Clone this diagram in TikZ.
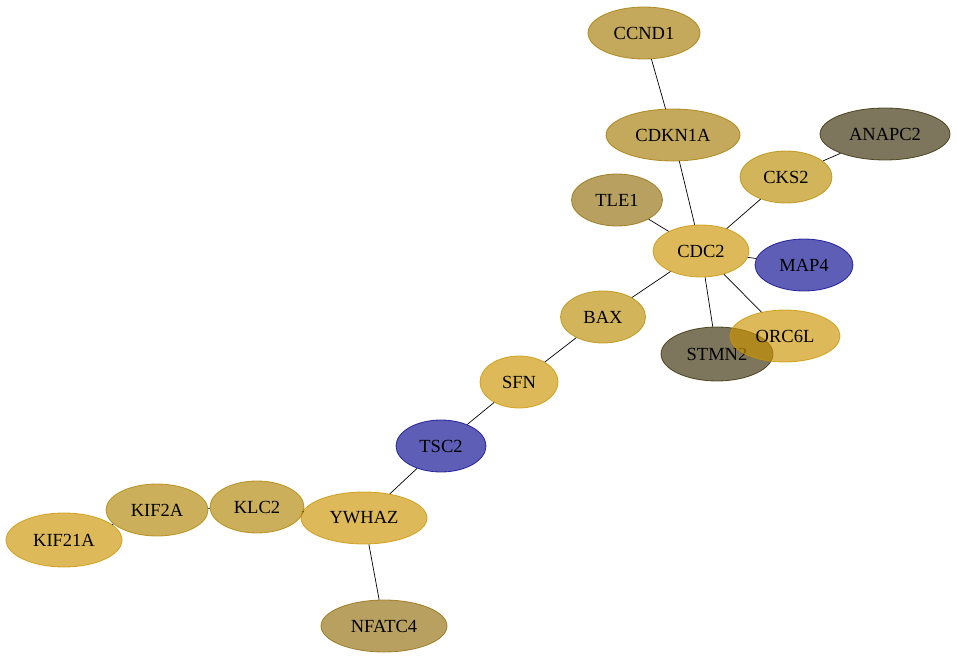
\documentclass[tikz,border=0pt]{standalone}
\usepackage{fontspec}
\setmainfont{Liberation Serif}
\usepackage{tikz}
\usetikzlibrary{shapes.geometric}
\definecolor{goldA}{RGB}{203,148,0}
\definecolor{goldB}{RGB}{186,140,2}
\definecolor{goldC}{RGB}{175,132,2}
\definecolor{tanA}{RGB}{165,122,3}
\definecolor{tanB}{RGB}{145,109,11}
\definecolor{olive}{RGB}{55,44,4}
\definecolor{indigo}{RGB}{8,8,145}
\tikzstyle{gene} = [ellipse, draw, inner sep=0pt, minimum height=52pt, line width=0.8pt, fill opacity=0.65, draw opacity=0.8, text opacity=1, font=\fontsize{18.5}{22}\selectfont]
\tikzstyle{link} = [line width=0.7pt, black]

\begin{document}
\begin{tikzpicture}[x=1pt, y=-1pt]
\useasboundingbox (0,0) rectangle (957,660);

% Nodes for the gene network
\node (ccnd1) [gene, fill=tanA, draw=tanA, minimum width=112pt] at (644,33) {CCND1};
\node (cdkn1a) [gene, fill=tanA, draw=tanA, minimum width=134pt] at (673,135) {CDKN1A};
\node (anapc2) [gene, fill=olive, draw=olive, minimum width=130pt] at (885,134) {ANAPC2};
\node (cks2) [gene, fill=goldB, draw=goldB, minimum width=92pt] at (786,177) {CKS2};
\node (tle1) [gene, fill=tanB, draw=tanB, minimum width=91pt] at (617,200) {TLE1};
\node (cdc2) [gene, fill=goldA, draw=goldA, minimum width=96pt] at (701,251) {CDC2};
\node (map4) [gene, fill=indigo, draw=indigo, minimum width=98pt] at (804,265) {MAP4};
\node (bax) [gene, fill=goldB, draw=goldB, minimum width=85pt] at (603,317) {BAX};
\node (stmn2) [gene, fill=olive, draw=olive, minimum width=112pt, minimum height=54pt] at (717,354) {STMN2};
\node (orc6l) [gene, fill=goldA, draw=goldA, minimum width=110pt] at (785,336) {ORC6L};
\node (sfn) [gene, fill=goldA, draw=goldA, minimum width=78pt] at (519,382) {SFN};
\node (tsc2) [gene, fill=indigo, draw=indigo, minimum width=90pt] at (441,446) {TSC2};
\node (ywhaz) [gene, fill=goldA, draw=goldA, minimum width=126pt] at (364,518) {YWHAZ};
\node (klc2) [gene, fill=goldC, draw=goldC, minimum width=94pt] at (257,507) {KLC2};
\node (kif2a) [gene, fill=goldC, draw=goldC, minimum width=102pt] at (157,510) {KIF2A};
\node (kif21a) [gene, fill=goldA, draw=goldA, minimum width=116pt, minimum height=54pt] at (64,540) {KIF21A};
\node (nfatc4) [gene, fill=tanB, draw=tanB, minimum width=126pt] at (384,626) {NFATC4};

% Edges between genes
\draw[link] (ccnd1) -- (cdkn1a);
\draw[link] (cdkn1a) -- (cdc2);
\draw[link] (anapc2) -- (cks2);
\draw[link] (cks2) -- (cdc2);
\draw[link] (tle1) -- (cdc2);
\draw[link] (cdc2) -- (map4);
\draw[link] (cdc2) -- (stmn2);
\draw[link] (cdc2) -- (orc6l);
\draw[link] (cdc2) -- (bax);
\draw[link] (bax) -- (sfn);
\draw[link] (sfn) -- (tsc2);
\draw[link] (tsc2) -- (ywhaz);
\draw[link] (ywhaz) -- (klc2);
\draw[link] (klc2) -- (kif2a);
\draw[link] (kif2a) -- (kif21a);
\draw[link] (ywhaz) -- (nfatc4);

\end{tikzpicture}
\end{document}
